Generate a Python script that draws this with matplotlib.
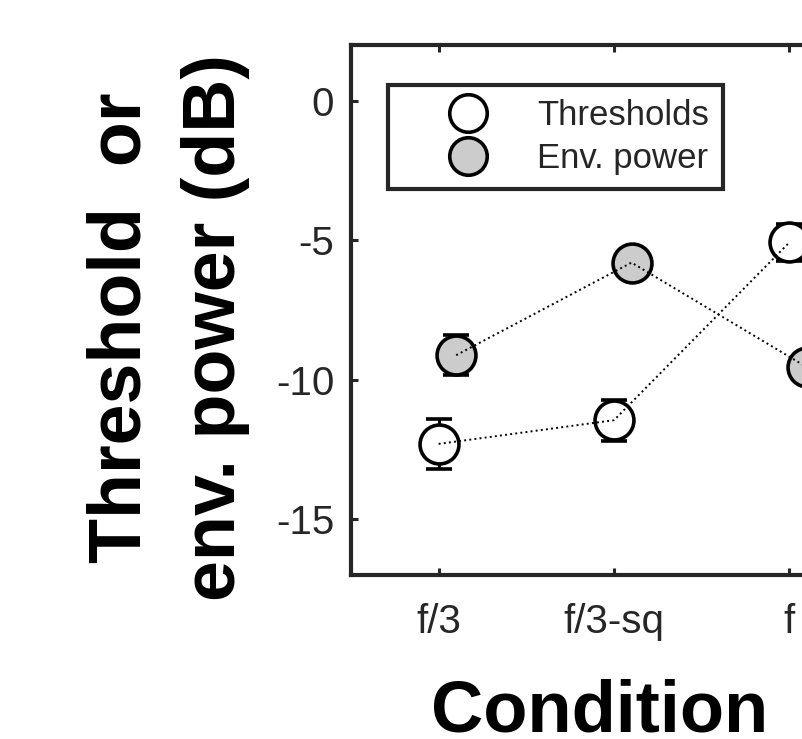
import numpy as np
import matplotlib
matplotlib.use('Agg')
from matplotlib import pyplot as plt
from matplotlib.lines import Line2D

conditions=['f/3','f/3-sq','f']
thresholds=[-12.3,-11.45,-5.08]
thr_err=[0.9,0.74,0.68]
env_power=[-9.12,-5.8,-9.55]
env_err=[0.72,0.45,0.5]

plt.rcParams['font.family']=['Liberation Sans','DejaVu Sans']
axcol='#262626'

fig=plt.figure(figsize=(8.03,7.39),dpi=100)
ax=fig.add_axes([351/803,1-575/739,526/803,530/739])

x=np.arange(1,len(conditions)+1)
xe=x+0.1

# markers + error bars first, dotted lines drawn on top (as in original)
ax.errorbar(x,thresholds,yerr=thr_err,fmt='o',ms=28,mfc='white',mec='black',mew=2.6,
            ecolor='black',elinewidth=2.2,capsize=9.5,capthick=2.8,zorder=3)
ax.errorbar(xe,env_power,yerr=env_err,fmt='o',ms=28,mfc='#cccccc',mec='black',mew=2.6,
            ecolor='black',elinewidth=2.2,capsize=9.5,capthick=2.8,zorder=3)
ax.plot(x,thresholds,':',color='black',lw=1.4,zorder=4)
ax.plot(xe,env_power,':',color='black',lw=1.4,zorder=4)

ax.set_xlim(0.5,3.5)
ax.set_ylim(-17,2)
ax.set_xticks(x)
ax.set_xticklabels(conditions)
ax.set_yticks([0,-5,-10,-15])
ax.set_yticklabels(['0','-5','-10','-15'])
for s in ax.spines.values():
    s.set_linewidth(3)
    s.set_color(axcol)
ax.tick_params(axis='both',direction='in',length=5,width=2.2,color=axcol,
               labelcolor=axcol,labelsize=29,top=True,right=True)
ax.tick_params(axis='x',pad=20)
ax.tick_params(axis='y',pad=12)

h1=Line2D([],[],ls='none',marker='o',ms=27,mfc='white',mec='black',mew=2.6)
h2=Line2D([],[],ls='none',marker='o',ms=27,mfc='#cccccc',mec='black',mew=2.6)
leg=ax.legend([h1,h2],['Thresholds','Env. power'],loc='upper left',
              bbox_to_anchor=(388/803,1-85/739),bbox_transform=fig.transFigure,
              fontsize=25,frameon=True,fancybox=False,borderaxespad=0,
              borderpad=0.4,handlelength=3.8,handletextpad=0.1,labelspacing=0.3)
leg.get_frame().set_edgecolor(axcol)
leg.get_frame().set_linewidth(3)
leg.get_frame().set_alpha(1)
for t in leg.get_texts():
    t.set_color(axcol)

fig.text(168/803,1-328/739,'Threshold  or\nenv. power (dB)',rotation=90,ha='center',va='center',
         fontsize=53,fontweight='bold',linespacing=1.47)
fig.text(600/803,1-731/739,'Condition',ha='center',va='baseline',fontsize=52,fontweight='bold')

fig.savefig('out.png',dpi=100)
